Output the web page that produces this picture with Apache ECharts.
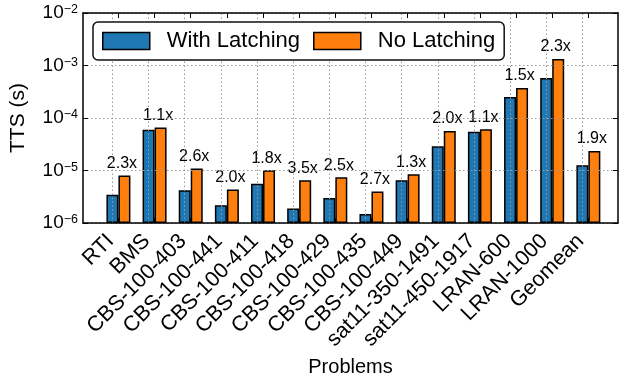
<!DOCTYPE html>
<html>
<head>
<meta charset="utf-8">
<script src="https://cdn.jsdelivr.net/npm/echarts@6/dist/echarts.min.js"></script>
<style>
  html, body { margin: 0; padding: 0; background: #fff; }
  #chart { width: 621px; height: 385px; }
</style>
</head>
<body>
<div id="chart"></div>
<script>
// Benchmark problems along the x axis
const problems = [
  'RTI', 'BMS', 'CBS-100-403', 'CBS-100-441', 'CBS-100-411', 'CBS-100-418',
  'CBS-100-429', 'CBS-100-435', 'CBS-100-449', 'sat11-350-1491',
  'sat11-450-1917', 'LRAN-600', 'LRAN-1000', 'Geomean'
];
// Time to solution (seconds)
const withLatching = [
  3.47e-6, 6.0e-5, 4.2e-6, 2.17e-6, 5.6e-6, 1.88e-6,
  3.0e-6, 1.48e-6, 6.5e-6, 2.89e-5, 5.5e-5, 2.51e-4, 5.78e-4, 1.26e-5
];
const noLatching = [
  8.0e-6, 6.56e-5, 1.09e-5, 4.33e-6, 1.01e-5, 6.5e-6,
  7.4e-6, 4.0e-6, 8.47e-6, 5.65e-5, 6.09e-5, 3.73e-4, 1.33e-3, 2.35e-5
];
// Log axis range
const yMin = 1e-6;
const yMax = 1e-2;

const positions = problems.map((_, i) => i);
const speedups = noLatching.map((v, i) => (v / withLatching[i]).toFixed(1) + 'x');

const FONT = "'Liberation Sans', Arial, Helvetica, sans-serif";
const BLACK = '#000';

function powLabel(v) {
  const e = Math.round(Math.log10(v));
  return '{b|10}{s|' + (e < 0 ? '\u2212' : '') + Math.abs(e) + '}';
}

const frameLine = { show: true, onZero: false, lineStyle: { color: BLACK, width: 1.5 } };
const dotted = { color: '#9a9a9a', width: 1, type: [1.5, 2.5] };

const chart = echarts.init(document.getElementById('chart'), null, { renderer: 'canvas' });

const option = {
  animation: false,
  backgroundColor: '#fff',
  textStyle: { fontFamily: FONT },
  grid: { left: 83, right: 3, top: 13, bottom: 162, containLabel: false },
  legend: {
    left: 93,
    top: 22,
    orient: 'horizontal',
    icon: 'rect',
    itemWidth: 47,
    itemHeight: 17,
    itemGap: 13,
    padding: [8, 9, 8, 9],
    borderColor: '#111',
    borderWidth: 1.5,
    borderRadius: 5,
    backgroundColor: '#fff',
    itemStyle: { borderColor: BLACK, borderWidth: 1.5 },
    textStyle: { fontSize: 22, color: BLACK, fontFamily: FONT, padding: [0, 0, 0, 12] },
    data: ['With Latching', 'No Latching']
  },
  xAxis: [
    {
      type: 'value',
      position: 'bottom',
      min: -0.98,
      max: 13.82,
      z: 3,
      axisLine: frameLine,
      axisTick: { show: true, inside: true, length: 5, customValues: positions,
                  lineStyle: { color: BLACK, width: 1 } },
      axisLabel: {
        customValues: positions,
        rotate: 45,
        margin: 7,
        fontSize: 21.5,
        color: BLACK,
        fontFamily: FONT,
        padding: [0, 11, 0, 0],
        formatter: v => problems[Math.round(v)]
      },
      splitLine: { show: false },
      name: 'Problems',
      nameLocation: 'middle',
      nameGap: 133,
      nameTextStyle: { fontSize: 20, color: BLACK, fontFamily: FONT }
    },
    {
      type: 'value',
      position: 'top',
      min: -0.98,
      max: 13.82,
      z: 3,
      axisLine: frameLine,
      axisTick: { show: true, inside: true, length: 5, customValues: positions,
                  lineStyle: { color: BLACK, width: 1 } },
      axisLabel: { show: false },
      splitLine: { show: false }
    }
  ],
  yAxis: [
    {
      type: 'log',
      logBase: 10,
      min: yMin,
      max: yMax,
      startValue: yMin,
      position: 'left',
      z: 3,
      axisLine: frameLine,
      axisTick: { show: true, inside: true, length: 5, lineStyle: { color: BLACK, width: 1 } },
      minorTick: { show: false },
      axisLabel: {
        margin: 5,
        formatter: powLabel,
        rich: {
          b: { fontSize: 19, lineHeight: 19, color: BLACK, fontFamily: FONT },
          s: { fontSize: 12.5, lineHeight: 11, verticalAlign: 'top', color: BLACK, fontFamily: FONT }
        }
      },
      splitLine: { show: true, lineStyle: dotted },
      name: 'TTS (s)',
      nameLocation: 'middle',
      nameGap: 54,
      nameRotate: 90,
      nameTextStyle: { fontSize: 21, color: BLACK, fontFamily: FONT }
    },
    {
      type: 'log',
      logBase: 10,
      min: yMin,
      max: yMax,
      position: 'right',
      z: 3,
      axisLine: frameLine,
      axisTick: { show: true, inside: true, length: 5, lineStyle: { color: BLACK, width: 1 } },
      axisLabel: { show: false },
      splitLine: { show: false }
    }
  ],
  series: [
    {
      name: 'With Latching',
      type: 'bar',
      xAxisIndex: 0,
      yAxisIndex: 0,
      barWidth: 12,
      barGap: '0%',
      itemStyle: { color: '#1f77b4', borderColor: BLACK, borderWidth: 1.5 },
      data: withLatching.map((v, i) => [positions[i], v]),
      // vertical dotted grid at each problem position
      markLine: {
        silent: true,
        z: 3,
        symbol: 'none',
        label: { show: false },
        emphasis: { disabled: true },
        lineStyle: dotted,
        data: positions.map(p => ({ xAxis: p }))
      }
    },
    {
      name: 'No Latching',
      type: 'bar',
      xAxisIndex: 0,
      yAxisIndex: 0,
      barWidth: 12,
      barGap: '0%',
      itemStyle: { color: '#ff7f0e', borderColor: BLACK, borderWidth: 1.5 },
      label: {
        show: true,
        position: 'top',
        distance: 4,
        offset: [-2.5, 0],
        fontSize: 16,
        color: BLACK,
        fontFamily: FONT,
        formatter: p => speedups[p.dataIndex]
      },
      data: noLatching.map((v, i) => [positions[i], v])
    }
  ]
};

chart.setOption(option);
</script>
</body>
</html>
